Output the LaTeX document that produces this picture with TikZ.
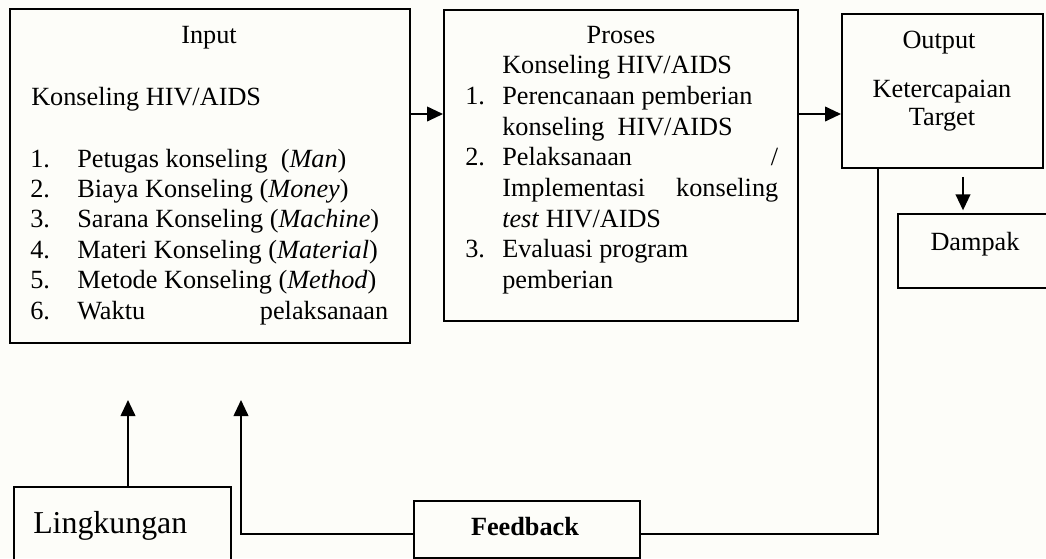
\documentclass[tikz,border=0pt]{standalone}
\usepackage{fontspec}
\setmainfont{Liberation Serif}
\usetikzlibrary{arrows.meta}
\definecolor{bgc}{RGB}{253,253,249}
\tikzset{
  box/.style={draw=black, line width=1.4pt, rectangle, inner sep=0pt, anchor=north west},
  ln/.style={draw=black, line width=1.4pt},
  arr/.style={ln, -{Triangle[length=12pt,width=11pt]}},
  txt/.style={inner sep=0pt, font=\fontsize{19.7pt}{23pt}\selectfont},
  bigtxt/.style={inner sep=0pt, font=\fontsize{23.9pt}{28pt}\selectfont},
}
\begin{document}
\begin{tikzpicture}[x=0.75pt,y=-0.75pt]
\useasboundingbox (0,0) rectangle (1046,558);
\fill[bgc] (0,0) rectangle (1046,558);

% boxes
\node[box, minimum width=300pt, minimum height=250.5pt] (in) at (9,8) {};
\node[box, minimum width=265.5pt, minimum height=233.25pt] (pr) at (443,9) {};
\node[box, minimum width=150.75pt, minimum height=115.5pt] (out) at (841,13) {};
\node[box, minimum width=117pt, minimum height=55.5pt] (dam) at (897,213) {};
\node[box, minimum width=162.75pt, minimum height=85.5pt] (env) at (13,486) {};
\node[box, minimum width=169.5pt, minimum height=42.75pt] (fb) at (413,500) {};

% Input text
\node[txt, anchor=base] (tin) at (209,43) {Input};
\node[txt, anchor=base west] (tin0) at (31,105) {Konseling HIV/AIDS};
\node[txt, anchor=base west] (tin1) at (30,167) {\makebox[35.25pt][l]{1.}Petugas konseling\ \ (\textit{Man})};
\node[txt, anchor=base west] (tin2) at (30,197.4) {\makebox[35.25pt][l]{2.}Biaya Konseling (\textit{Money})};
\node[txt, anchor=base west] (tin3) at (30,227.8) {\makebox[35.25pt][l]{3.}Sarana Konseling (\textit{Machine})};
\node[txt, anchor=base west] (tin4) at (30,258.2) {\makebox[35.25pt][l]{4.}Materi Konseling (\textit{Material})};
\node[txt, anchor=base west] (tin5) at (30,288.6) {\makebox[35.25pt][l]{5.}Metode Konseling (\textit{Method})};
\node[txt, anchor=base west] (tin6) at (30,319) {\makebox[268.5pt]{\makebox[35.25pt][l]{6.}Waktu\hfill pelaksanaan}};

% Proses text
\node[txt, anchor=base] (tpr) at (621,43) {Proses};
\node[txt, anchor=base west] (tpr0) at (502,73) {Konseling HIV/AIDS};
\node[txt, anchor=base west] (tpr1) at (465,104) {\makebox[27.75pt][l]{1.}Perencanaan pemberian};
\node[txt, anchor=base west] (tpr2) at (502,135) {konseling\ \ HIV/AIDS};
\node[txt, anchor=base west] (tpr3) at (465,165) {\makebox[234.75pt]{\makebox[27.75pt][l]{2.}Pelaksanaan\hfill/}};
\node[txt, anchor=base west] (tpr4) at (502,196) {\makebox[207pt]{Implementasi\hfill konseling}};
\node[txt, anchor=base west] (tpr5) at (502,227) {\textit{test} HIV/AIDS};
\node[txt, anchor=base west] (tpr6) at (465,257) {\makebox[27.75pt][l]{3.}Evaluasi program};
\node[txt, anchor=base west] (tpr7) at (502,288) {pemberian};

% Output text
\node[txt, anchor=base] (tout) at (939,48) {Output};
\node[txt, anchor=base] (tout1) at (942,97) {Ketercapaian};
\node[txt, anchor=base] (tout2) at (942,125) {Target};

% Dampak, Lingkungan, Feedback
\node[txt, anchor=base] (tdam) at (975,250) {Dampak};
\node[bigtxt, anchor=base west] (tenv) at (33,533) {Lingkungan};
\node[txt, anchor=base] (tfb) at (525,535) {\textbf{Feedback}};

% connectors
\coordinate (a1) at (0,114);
\coordinate (a2) at (963,0);
\coordinate (fx) at (878,534);
\coordinate (fi) at (241,400);
\coordinate (li) at (128,400);

\draw[arr] (in.east |- a1) -- (pr.west |- a1);
\draw[arr] (pr.east |- a1) -- (out.west |- a1);
\draw[arr, shorten <=6pt, shorten >=2pt] (out.south -| a2) -- (dam.north -| a2);
\draw[ln] (out.south -| fx) -- (fx) -- (fb.east |- fx);
\draw[arr] (fb.west |- fx) -| (fi);
\draw[arr] (env.north -| li) -- (li);
\end{tikzpicture}
\end{document}
